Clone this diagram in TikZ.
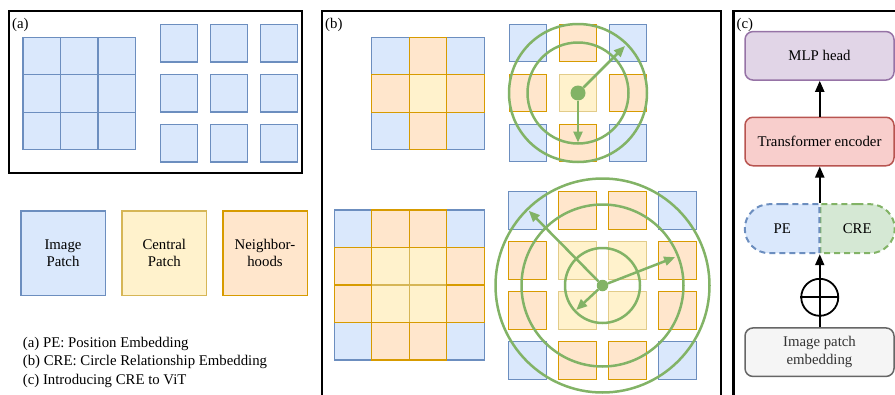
\documentclass[tikz,border=0pt]{standalone}
\usepackage{fontspec}
\setmainfont{Liberation Serif}
\usetikzlibrary{arrows.meta,positioning,calc,shapes.misc}

\definecolor{patchblue}{HTML}{DAE8FC}
\definecolor{lineblue}{HTML}{6C8EBF}
\definecolor{patchyellow}{HTML}{FFF2CC}
\definecolor{lineyellow}{HTML}{D6B656}
\definecolor{patchorange}{HTML}{FFE6CC}
\definecolor{lineorange}{HTML}{D79B00}
\definecolor{ringgreen}{HTML}{82B366}
\definecolor{fillgreen}{HTML}{D5E8D4}
\definecolor{fillpurple}{HTML}{E1D5E7}
\definecolor{linepurple}{HTML}{9673A6}
\definecolor{fillred}{HTML}{F8CECC}
\definecolor{linered}{HTML}{B85450}
\definecolor{fillgray}{HTML}{F5F5F5}
\definecolor{linegray}{HTML}{666666}
\definecolor{textgray}{HTML}{333333}

\newcommand{\figfont}{\fontsize{14.8pt}{17.5pt}\selectfont}

\begin{document}
\begin{tikzpicture}[
    x=1pt, y=-1pt,
    every node/.style={font=\figfont},
    patch/.style={rectangle, draw, line width=1.3pt, minimum size=37.5pt, inner sep=0pt, outer sep=0pt},
    img/.style={patch, fill=patchblue, draw=lineblue},
    ctr/.style={patch, fill=patchyellow, draw=lineyellow},
    nbr/.style={patch, fill=patchorange, draw=lineorange},
    legend/.style={rectangle, draw, line width=1.5pt, minimum size=84.5pt, align=center},
    panel/.style={draw, line width=2.5pt},
    tag/.style={anchor=base west, inner sep=0pt},
    ring/.style={circle, draw=ringgreen, line width=2.5pt, inner sep=0pt},
    dot/.style={circle, fill=ringgreen, inner sep=0pt},
    ray/.style={draw=ringgreen, line width=2.5pt, -{Triangle[length=11pt,width=9pt,fill=ringgreen]}},
    block/.style={rectangle, rounded corners=8pt, line width=1.5pt, minimum width=149pt, minimum height=48.5pt, align=center},
    half/.style={rounded rectangle, line width=2pt, dash pattern=on 6pt off 4pt, minimum width=74.5pt, minimum height=49pt, inner sep=0pt},
    flow/.style={line width=2pt, -{Triangle[length=11pt,width=9pt]}}
]
\useasboundingbox (0,0) rectangle (895,394);
\clip (0,0) rectangle (895,394);

% Panel (a)
\draw[panel] (9,11) rectangle (302,173);
\node[tag] (tag-a) at (12,28) {(a)};
\foreach \i in {0,1,2}
  \foreach \j in {0,1,2}
    \node[img] (ga-\i\j) at ({41.75+37.5*\i},{56+37.5*\j}) {};
\foreach \i in {0,1,2}
  \foreach \j in {0,1,2}
    \node[img] (sa-\i\j) at ({179+50*\i},{43.3+50*\j}) {};

% Legend
\node[legend, fill=patchblue, draw=lineblue] (leg-img) at (63,253) {Image\\Patch};
\node[legend, fill=patchyellow, draw=lineyellow] (leg-ctr) at (164.3,253) {Central\\Patch};
\node[legend, fill=patchorange, draw=lineorange] (leg-nbr) at (265,253) {Neighbor-\\hoods};
\node[tag] (note-a) at (22.7,347) {(a) PE: Position Embedding};
\node[tag] (note-b) at (22.7,365.5) {(b) CRE: Circle Relationship Embedding};
\node[tag] (note-c) at (22.7,384) {(c) Introducing CRE to ViT};

% Panel (b)
\draw[panel] (322,11) rectangle (721,410);
\node[tag] (tag-b) at (325,28) {(b)};

% 3x3 neighbourhood
\foreach \i/\j in {0/0,2/0,0/2,2/2}
  \node[img] (gb-\i\j) at ({390.5+37.5*\i},{56+37.5*\j}) {};
\node[ctr] (gb-11) at (428,93.5) {};
\foreach \i/\j in {1/0,0/1,2/1,1/2}
  \node[nbr] (gb-\i\j) at ({390.5+37.5*\i},{56+37.5*\j}) {};

\foreach \i/\j in {0/0,2/0,0/2,2/2}
  \node[img] (sb-\i\j) at ({528+50*\i},{43+50*\j}) {};
\node[ctr, draw=lineyellow!70] (sb-11) at (578,93) {};
\foreach \i/\j in {1/0,0/1,2/1,1/2}
  \node[nbr] (sb-\i\j) at ({528+50*\i},{43+50*\j}) {};

\coordinate (o1) at (578,93);
\node[ring, minimum size=101pt] (r1-in) at (o1) {};
\node[ring, minimum size=138pt] (r1-out) at (o1) {};
\node[dot, minimum size=15pt] (c1) at (o1) {};
\coordinate (t1-out) at ([shift={(45:66.5pt)}]o1);
\coordinate (t1-in) at ([shift={(270:49.5pt)}]o1);
\draw[ray] (c1) -- (t1-out);
\draw[ray] (c1) -- (t1-in);

% 4x4 neighbourhood
\foreach \i/\j in {0/0,3/0,0/3,3/3}
  \node[img] (gc-\i\j) at ({353+37.5*\i},{228.7+37.5*\j}) {};
\foreach \i/\j in {1/1,2/1,1/2,2/2}
  \node[ctr] (gc-\i\j) at ({353+37.5*\i},{228.7+37.5*\j}) {};
\foreach \i/\j in {1/0,2/0,0/1,3/1,0/2,3/2,1/3,2/3}
  \node[nbr] (gc-\i\j) at ({353+37.5*\i},{228.7+37.5*\j}) {};

\foreach \i/\j in {0/0,3/0,0/3,3/3}
  \node[img] (sc-\i\j) at ({527.5+50*\i},{210.5+50*\j}) {};
\foreach \i/\j in {1/1,2/1,1/2,2/2}
  \node[ctr, draw=lineyellow!70] (sc-\i\j) at ({527.5+50*\i},{210.5+50*\j}) {};
\foreach \i/\j in {1/0,2/0,0/1,3/1,0/2,3/2,1/3,2/3}
  \node[nbr] (sc-\i\j) at ({527.5+50*\i},{210.5+50*\j}) {};

\coordinate (o2) at (602.5,285.5);
\node[ring, minimum size=75pt] (r2-in) at (o2) {};
\node[ring, minimum size=162pt] (r2-mid) at (o2) {};
\node[ring, minimum size=214pt] (r2-out) at (o2) {};
\node[dot, minimum size=11.5pt] (c2) at (o2) {};
\coordinate (t2-out) at ([shift={(134.6:105pt)}]o2);
\coordinate (t2-mid) at ([shift={(21.3:78pt)}]o2);
\coordinate (t2-in) at ([shift={(223:36pt)}]o2);
\draw[ray] (c2) -- (t2-out);
\draw[ray] (c2) -- (t2-mid);
\draw[ray] (c2) -- (t2-in);

% Panel (c)
\draw[panel] (733.3,11) rectangle (910,410);
\node[tag] (tag-c) at (736.5,28) {(c)};

\node[block, fill=fillpurple, draw=linepurple] (mlp) at (819.5,55.8) {MLP head};
\node[block, fill=fillred, draw=linered] (trans) at (819.5,141.5) {Transformer encoder};
\node[half, rounded rectangle left arc=none, fill=fillgreen, draw=ringgreen] (cre) at (857.25,228.7) {CRE};
\node[half, rounded rectangle right arc=none, fill=patchblue, draw=lineblue] (pe) at (782.25,228.7) {PE};
\node[block, fill=fillgray, draw=linegray, text=textgray] (emb) at (819.5,352.2) {Image patch\\embedding};
\node[circle, draw, line width=1.8pt, minimum size=37pt, inner sep=0pt] (add) at (819.75,297.3) {};

\coordinate (pe-top) at ($(pe.north)!0.5!(cre.north)$);
\coordinate (pe-bot) at ($(pe.south)!0.5!(cre.south)$);
\draw[line width=1.8pt] (add.west) -- (add.east);
\draw[flow] (emb.north -| pe-bot) -- (pe-bot);
\draw[flow] (pe-top) -- (trans.south -| pe-top);
\draw[flow] (trans.north -| pe-top) -- (mlp.south -| pe-top);

\end{tikzpicture}
\end{document}
